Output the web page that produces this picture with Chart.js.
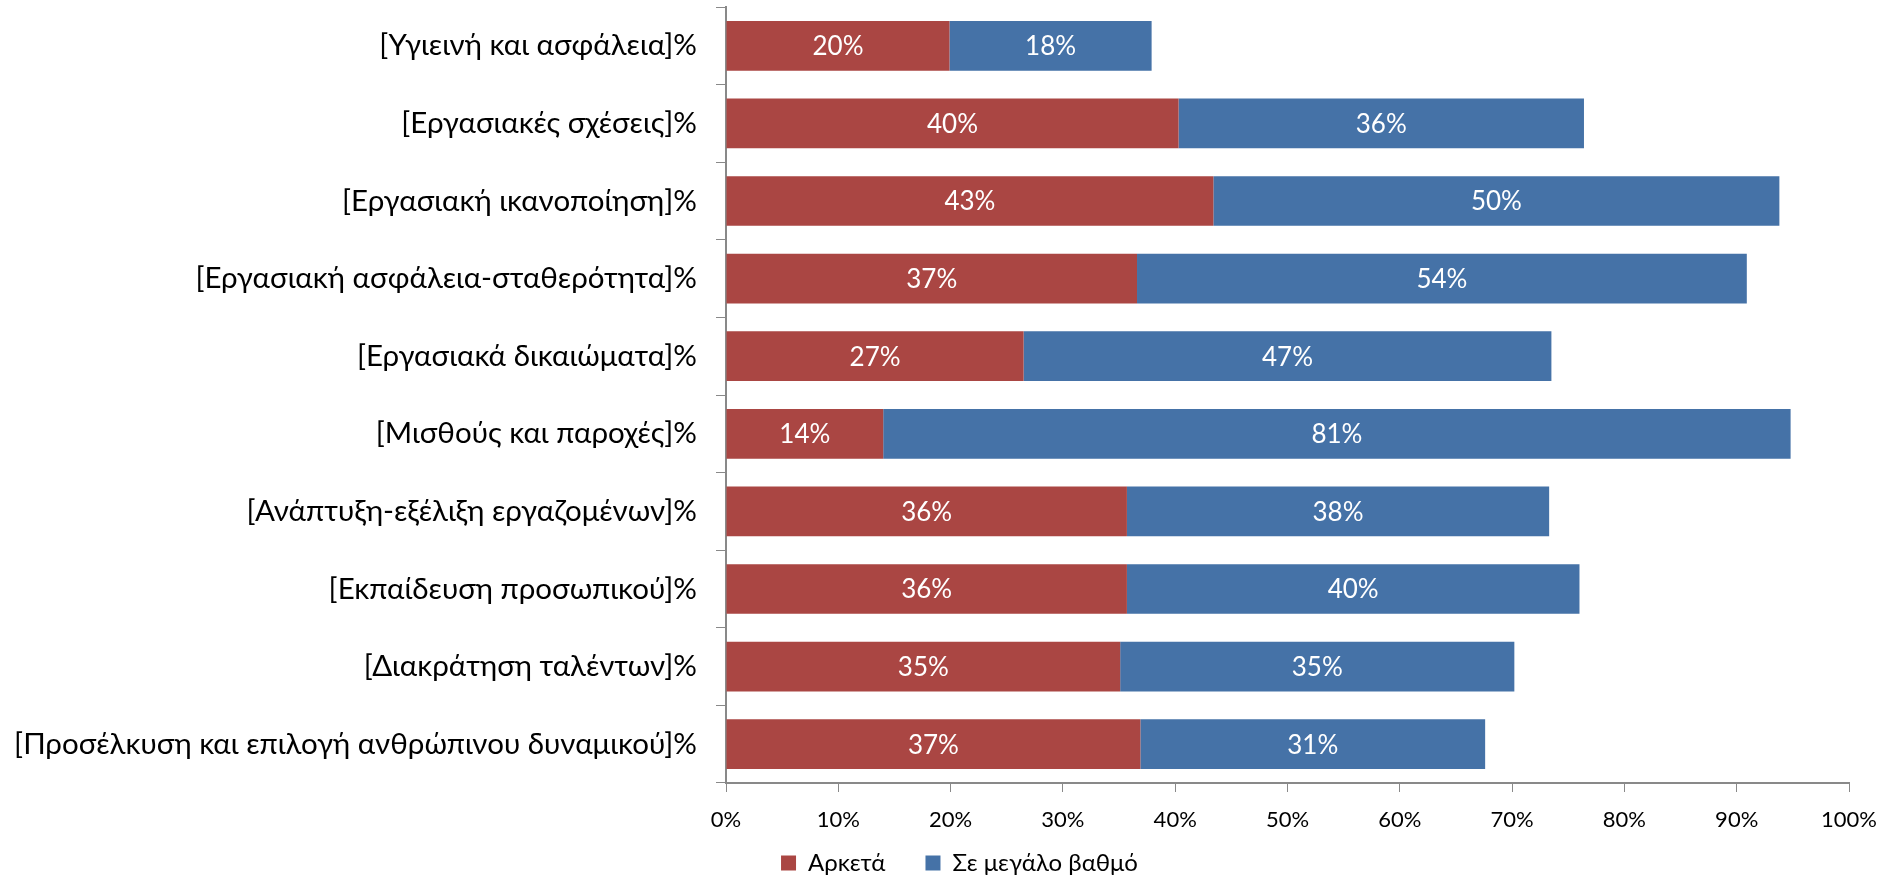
<!DOCTYPE html>
<html><head><meta charset="utf-8">
<script src="https://cdn.jsdelivr.net/npm/chart.js@4"></script>
<style>html,body{margin:0;padding:0;background:#fff}#wrap{width:1904px;height:879px}</style>
</head><body><div id="wrap"><canvas id="c"></canvas></div>
<script>
const categories = [
  "[Υγιεινή και ασφάλεια]%",
  "[Εργασιακές σχέσεις]%",
  "[Εργασιακή ικανοποίηση]%",
  "[Εργασιακή ασφάλεια-σταθερότητα]%",
  "[Εργασιακά δικαιώματα]%",
  "[Μισθούς και παροχές]%",
  "[Ανάπτυξη-εξέλιξη εργαζομένων]%",
  "[Εκπαίδευση προσωπικού]%",
  "[Διακράτηση ταλέντων]%",
  "[Προσέλκυση και επιλογή ανθρώπινου δυναμικού]%"
];
const arketa = [19.9, 40.3, 43.4, 36.6, 26.5, 14.0, 35.7, 35.7, 35.1, 36.9];
const megalo = [18.0, 36.1, 50.4, 54.3, 47.0, 80.8, 37.6, 40.3, 35.1, 30.7];
const xTicks = [0,10,20,30,40,50,60,70,80,90,100];
const seriesNames = ["Αρκετά", "Σε μεγάλο βαθμό"];

const FONT = "Lato, 'Open Sans', sans-serif";

const labelPlugin = {
  id: 'barLabels',
  afterLayout(chart) {
    const lg = chart.legend;
    if (lg) {
      const h = lg.height;
      lg.left += 35; lg.right += 35;
      lg.top = chart.chartArea.bottom + 28; lg.bottom = lg.top + h;
    }
  },
  afterDatasetsDraw(chart) {
    const ctx = chart.ctx;
    ctx.save();
    ctx.fillStyle = '#fff';
    ctx.font = "26px " + FONT;
    ctx.textAlign = 'center';
    ctx.textBaseline = 'middle';
    chart.data.datasets.forEach((ds, di) => {
      const meta = chart.getDatasetMeta(di);
      meta.data.forEach((bar, i) => {
        const p = bar.getProps(['x','y','base'], true);
        const cx = (p.x + p.base) / 2;
        ctx.fillText(Math.round(ds.data[i]) + '%', cx, p.y + 1);
      });
    });
    ctx.restore();
  }
};

new Chart(document.getElementById('c'), {
  type: 'bar',
  data: {
    labels: categories,
    datasets: [
      { label: seriesNames[0], data: arketa, backgroundColor: '#AA4643', barPercentage: 0.64, categoryPercentage: 1 },
      { label: seriesNames[1], data: megalo, backgroundColor: '#4572A7', barPercentage: 0.64, categoryPercentage: 1 }
    ]
  },
  options: {
    indexAxis: 'y',
    responsive: true,
    maintainAspectRatio: false,
    animation: false,
    layout: { padding: { top: 7, right: 55, left: 0, bottom: -38 } },
    scales: {
      x: {
        stacked: true, min: 0, max: 100,
        afterBuildTicks(s) { s.ticks = xTicks.map(v => ({ value: v })); },
        ticks: { callback: v => v + '%', color: '#000', font: { family: FONT, size: 22 }, padding: 15, maxRotation: 0 },
        grid: { drawOnChartArea: false, drawTicks: true, tickLength: 9, color: '#898989' },
        border: { color: '#898989', width: 2 },
        afterFit(s) { s.height = 60; }
      },
      y: {
        stacked: true,
        ticks: { color: '#000', font: { family: FONT, size: 29.5 }, padding: 19 },
        grid: { drawOnChartArea: false, drawTicks: true, tickLength: 10, color: '#898989', offset: true },
        border: { color: '#898989', width: 2 },
        afterFit(s) { s.width = 726; s.paddingTop = 0; s.paddingBottom = 0; }
      }
    },
    plugins: {
      legend: {
        position: 'bottom',
        labels: { color: '#000', font: { family: FONT, size: 24 }, boxWidth: 15, boxHeight: 15, padding: 40 }
      },
      tooltip: { enabled: false }
    }
  },
  plugins: [labelPlugin]
});
</script></body></html>
